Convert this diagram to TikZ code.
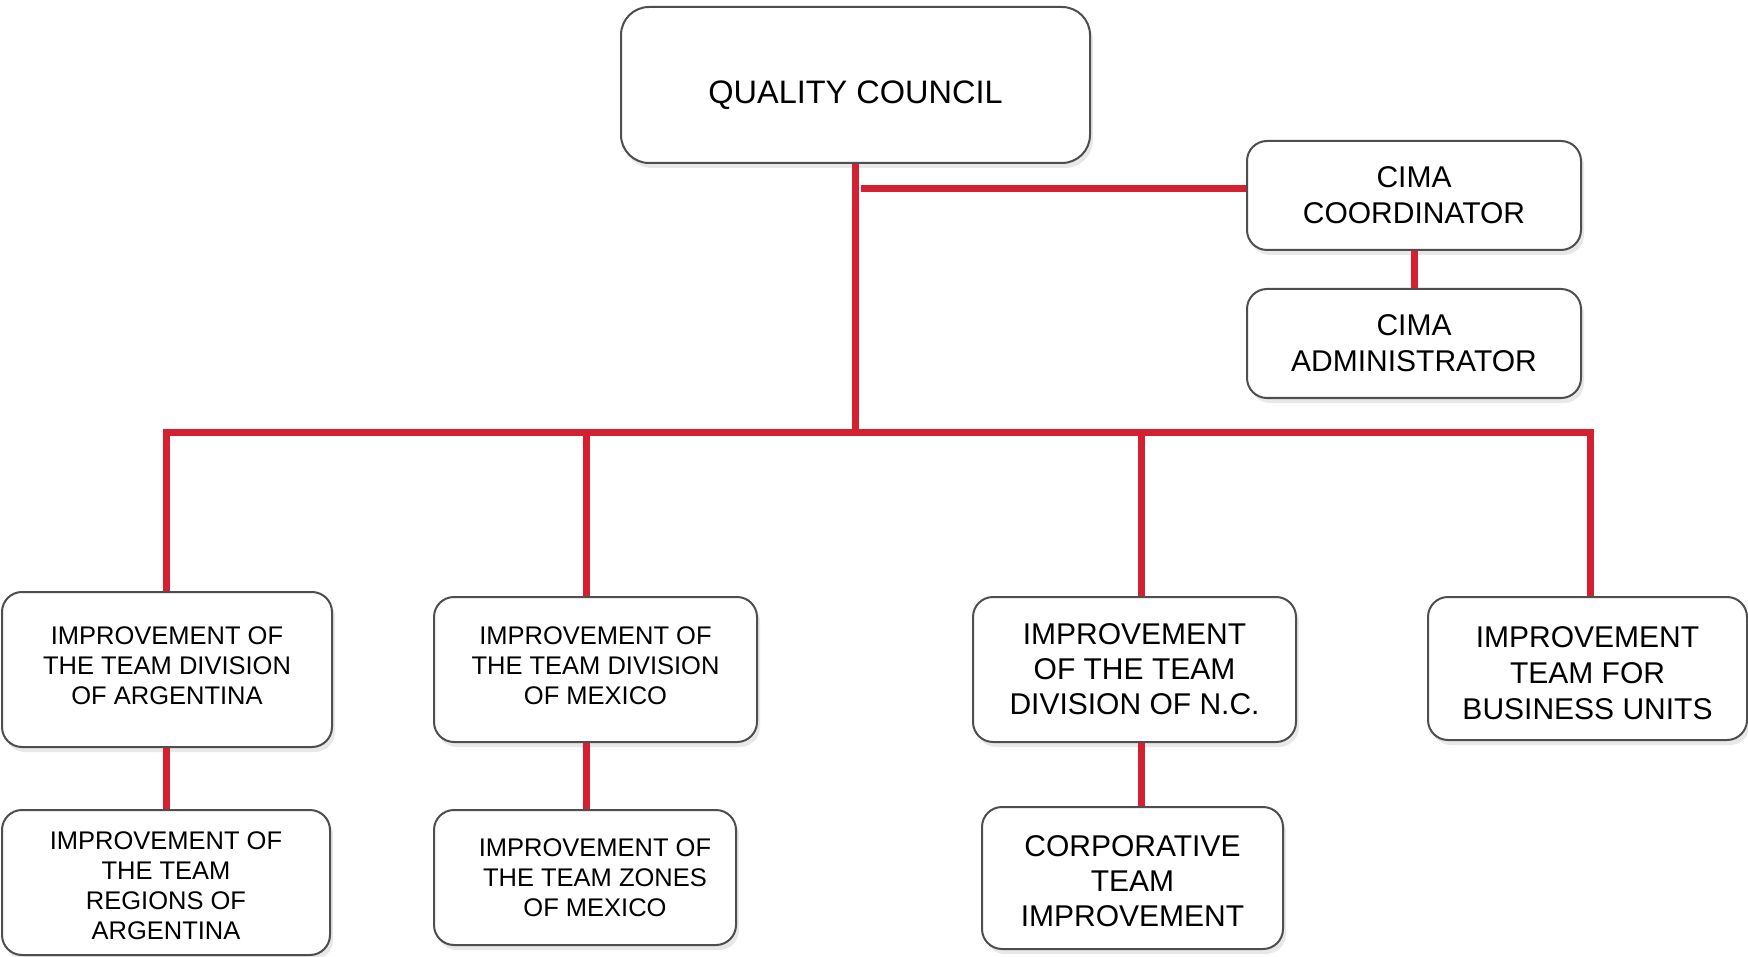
\documentclass[tikz,border=0pt]{standalone}
\usepackage{fontspec}
\setmainfont{Liberation Sans}
\usetikzlibrary{shadows,positioning}
\definecolor{cimared}{RGB}{212,32,48}
\definecolor{boxline}{RGB}{78,78,78}
\newcommand{\topgap}[1]{\rule{0pt}{#1}}
\tikzset{
    block/.style = {draw=boxline, line width=2pt, fill=white, rectangle,
        rounded corners=20pt, align=center, inner sep=0pt,
        drop shadow={shadow xshift=3pt, shadow yshift=-5pt, opacity=.18}},
    dims/.style 2 args = {minimum width=#1pt, minimum height=#2pt},
    smalltext/.style = {font=\fontsize{25.5}{30}\selectfont},
    largetext/.style = {font=\fontsize{30}{35}\selectfont},
    cimatext/.style = {font=\fontsize{30}{36}\selectfont},
    link/.style = {draw=cimared, line width=7pt}
}

\begin{document}
\begin{tikzpicture}[x=1pt,y=-1pt]
    \useasboundingbox (0,0) rectangle (1748,957);
    % top level
    \node [block, dims={469}{156}, rounded corners=28pt, font=\fontsize{32.5}{38}\selectfont,
        text height=37pt, text depth=0pt] (qc) at (855.5,85) {QUALITY COUNCIL};
    \node [block, dims={334}{109}, cimatext] (cimacoord) at (1414,195.5) {CIMA\\COORDINATOR};
    \node [block, dims={334}{109}, cimatext] (cimaadmin) at (1414,343.5) {CIMA\\ADMINISTRATOR};
    % divisions
    \node [block, dims={330}{155}, smalltext] (divarg) at (167,669.5) {IMPROVEMENT OF\\THE TEAM DIVISION\\OF ARGENTINA\\[-22pt]};
    \node [block, dims={323}{145}, smalltext] (divmex) at (595.5,669.5) {IMPROVEMENT OF\\THE TEAM DIVISION\\OF MEXICO\\[-22pt]};
    \node [block, dims={323}{145}, largetext] (divnc) at (1134.5,669.5) {IMPROVEMENT\\OF THE TEAM\\DIVISION OF N.C.};
    \node [block, dims={319}{143}, font=\fontsize{30}{36}\selectfont] (busunits) at (1587.5,668.5) {\topgap{30pt}IMPROVEMENT\\TEAM FOR\\BUSINESS UNITS};
    % lower level
    \node [block, dims={328}{145}, smalltext] (regarg) at (166,882.5) {\topgap{25pt}IMPROVEMENT OF\\THE TEAM\\REGIONS OF\\ARGENTINA};
    \node [block, dims={302}{135}, smalltext] (zonmex) at (585,877.5) {\hspace{20pt}IMPROVEMENT OF\\\hspace{20pt}THE TEAM ZONES\\\hspace{20pt}OF MEXICO};
    \node [block, dims={301}{142}, largetext] (corp) at (1132.5,878) {\topgap{28pt}CORPORATIVE\\TEAM\\IMPROVEMENT};

    \coordinate (hub) at (855.5,432);
    \coordinate (tap) at (861,189);
    \coordinate (b1) at (166,432);
    \coordinate (b2) at (586,432);
    \coordinate (b3) at (1141,432);
    \coordinate (b4) at (1590,432);

    \draw [link] (qc.south) -- (hub);
    \draw [link] (tap) -- (tap -| cimacoord.west);
    \draw [link] (cimacoord) -- (cimaadmin);
    \draw [link] (b1 |- divarg.north) -- (b1) -- (b4) -- (b4 |- busunits.north);
    \draw [link] (b2) -- (b2 |- divmex.north);
    \draw [link] (b3) -- (b3 |- divnc.north);
    \draw [link] (b1 |- divarg.south) -- (b1 |- regarg.north);
    \draw [link] (b2 |- divmex.south) -- (b2 |- zonmex.north);
    \draw [link] (b3 |- divnc.south) -- (b3 |- corp.north);
\end{tikzpicture}
\end{document}
